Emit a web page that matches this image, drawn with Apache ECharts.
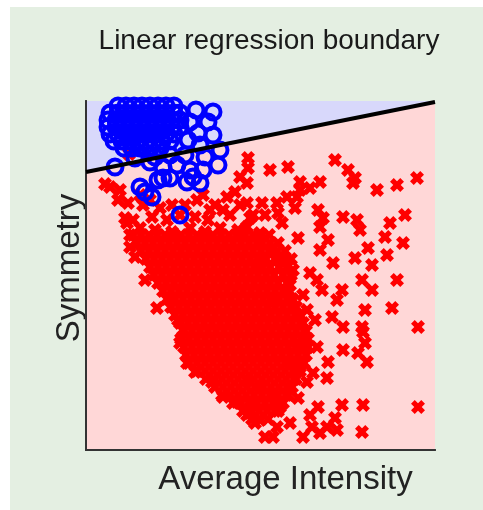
<!DOCTYPE html>
<html>
<head>
<meta charset="utf-8">
<script src="https://cdn.jsdelivr.net/npm/echarts@6/dist/echarts.min.js"></script>
<style>
  html, body { margin: 0; padding: 0; background: #ffffff; }
  #chart { position: absolute; left: 10px; top: 7px; width: 473px; height: 503px; }
</style>
</head>
<body>
<div id="chart"></div>
<script>
// Decision boundary from the linear regression fit (symmetry vs. intensity)
const boundaryX = [0, 34.9];
const boundaryY = [27.8, 34.8];

// Digit "1" samples (blue circles): dense cluster rows [symmetry, [intensities]]
const blueClusterRows = [
  [34.4, [3.2, 4.0, 4.8, 5.6, 6.4, 7.2, 8.0, 8.8]],
  [33.7, [2.4, 3.2, 4.0, 4.8, 5.6, 6.4, 7.2, 8.0, 8.8, 9.4]],
  [33.0, [2.2, 3.0, 3.8, 4.6, 5.4, 6.2, 7.0, 7.8, 8.6, 9.4]],
  [32.3, [2.2, 3.0, 3.8, 4.6, 5.4, 6.2, 7.0, 7.8, 8.6, 9.4]],
  [31.6, [2.4, 3.2, 4.0, 4.8, 5.6, 6.4, 7.2, 8.0, 8.8]],
  [30.9, [2.8, 3.6, 4.4, 5.2, 6.0, 6.8, 7.6, 8.4]],
  [30.2, [3.8, 4.6, 5.4, 6.4, 7.4]]
];
// Digit "1" samples away from the main cluster [intensity, symmetry]
const blueSpread = [
  [12.7, 33.8], [12.2, 32.8], [10.4, 32.8], [11.2, 31.7], [12.7, 31.5], [10.2, 31.0],
  [13.4, 30.0], [13.2, 28.5], [2.9, 28.3], [6.4, 28.8], [7.7, 28.3], [9.1, 28.5],
  [10.4, 28.0], [11.7, 28.0], [7.7, 27.2], [8.4, 27.2], [10.7, 27.3], [11.4, 26.7],
  [10.1, 26.8], [5.4, 26.3], [5.9, 25.8], [6.6, 25.3], [9.4, 23.5], [7.2, 27.0],
  [11.0, 34.0], [11.4, 30.5], [11.9, 29.3], [9.9, 29.5], [8.4, 29.5], [6.9, 29.3],
  [4.9, 29.2]
];

// Other digits (red crosses): dense core rows [symmetry, [intensities]]
const redCoreRows = [
  [21.5, [4.7, 5.5, 6.3, 7.1, 7.9, 8.7, 9.5, 10.3, 11.1, 11.9, 12.7, 13.5, 14.3, 15.1, 15.9, 16.7, 17.5, 18.3]],
  [20.7, [5.1, 5.9, 6.7, 7.5, 8.3, 9.1, 9.9, 10.7, 11.5, 12.3, 13.1, 13.9, 14.7, 15.5, 16.3, 17.1, 17.6, 18.4, 19.2]],
  [19.9, [5.5, 6.3, 7.1, 7.9, 8.7, 9.5, 10.3, 11.1, 11.9, 12.7, 13.5, 14.3, 15.1, 15.9, 16.7, 17.5, 18.3, 19.1, 19.9]],
  [19.1, [6.0, 6.8, 7.6, 8.4, 9.2, 10.0, 10.8, 11.6, 12.4, 13.2, 14.0, 14.8, 15.6, 16.4, 17.2, 18.0, 18.9, 19.7, 20.5]],
  [18.3, [6.4, 7.2, 8.0, 8.8, 9.6, 10.4, 11.2, 12.0, 12.8, 13.6, 14.4, 15.2, 16.0, 16.8, 17.6, 18.4, 19.3, 20.1]],
  [17.5, [6.8, 7.6, 8.4, 9.2, 10.0, 10.8, 11.6, 12.4, 13.2, 14.0, 14.8, 15.6, 16.4, 17.2, 18.0, 18.8, 19.7, 20.5]],
  [16.7, [7.2, 8.0, 8.8, 9.6, 10.4, 11.2, 12.0, 12.8, 13.6, 14.4, 15.2, 16.0, 16.8, 17.6, 18.4, 19.2, 20.1]],
  [15.9, [7.7, 8.5, 9.3, 10.1, 10.9, 11.7, 12.5, 13.3, 14.1, 14.9, 15.7, 16.5, 17.3, 18.1, 18.9, 19.7, 20.3]],
  [15.1, [8.1, 8.9, 9.7, 10.5, 11.3, 12.1, 12.9, 13.7, 14.5, 15.3, 16.1, 16.9, 17.7, 18.5, 19.3, 20.1, 20.6]],
  [14.3, [8.5, 9.3, 10.1, 10.9, 11.7, 12.5, 13.3, 14.1, 14.9, 15.7, 16.5, 17.3, 18.1, 18.9, 19.7, 20.5, 21.0]],
  [13.5, [8.9, 9.7, 10.5, 11.3, 12.1, 12.9, 13.7, 14.5, 15.3, 16.1, 16.9, 17.7, 18.5, 19.3, 20.1, 20.9, 21.4]],
  [12.7, [9.4, 10.2, 11.0, 11.8, 12.6, 13.4, 14.2, 15.0, 15.8, 16.6, 17.4, 18.2, 19.0, 19.8, 20.6, 21.4, 21.7]],
  [11.9, [9.8, 10.6, 11.4, 12.2, 13.0, 13.8, 14.6, 15.4, 16.2, 17.0, 17.8, 18.6, 19.4, 20.2, 21.0, 21.8, 22.0]],
  [11.1, [9.5, 10.3, 11.1, 11.9, 12.7, 13.5, 14.3, 15.1, 15.9, 16.7, 17.5, 18.3, 19.1, 19.9, 20.7, 21.5, 22.2]],
  [10.3, [9.8, 10.6, 11.4, 12.2, 13.0, 13.8, 14.6, 15.4, 16.2, 17.0, 17.8, 18.6, 19.4, 20.2, 21.0, 21.8, 22.2]],
  [9.5, [10.0, 10.8, 11.6, 12.4, 13.2, 14.0, 14.8, 15.6, 16.4, 17.2, 18.0, 18.8, 19.6, 20.4, 21.2, 22.0]],
  [8.7, [10.3, 11.1, 11.9, 12.7, 13.5, 14.3, 15.1, 15.9, 16.7, 17.5, 18.3, 19.1, 19.9, 20.7, 21.5, 21.8]],
  [7.9, [11.1, 11.9, 12.7, 13.5, 14.3, 15.1, 15.9, 16.7, 17.5, 18.3, 19.1, 19.9, 20.7, 21.4]],
  [7.1, [12.0, 12.8, 13.6, 14.4, 15.2, 16.0, 16.8, 17.6, 18.4, 19.2, 20.0, 20.8, 21.0]],
  [6.3, [12.9, 13.7, 14.5, 15.3, 16.1, 16.9, 17.7, 18.5, 19.3, 20.1, 20.6]],
  [5.5, [13.6, 14.4, 15.2, 16.0, 16.8, 17.6, 18.4, 19.2, 20.0, 20.2]],
  [4.7, [14.7, 15.5, 16.3, 17.1, 17.9, 18.7, 19.5, 19.7]],
  [3.9, [15.7, 16.5, 17.3, 18.1, 18.9, 19.2]],
  [3.1, [16.6, 17.4, 18.2]]
];
// Other digits scattered around the core [intensity, symmetry]
const redSpread = [
  [16.2, 29.2], [16.2, 28.2], [16.1, 26.7], [18.4, 28.0], [20.2, 28.3], [24.9, 29.0],
  [26.2, 28.0], [26.9, 27.2], [26.7, 26.7], [29.1, 26.0], [31.1, 26.5], [33.1, 27.2],
  [21.4, 26.8], [21.4, 26.0], [22.4, 26.2], [23.4, 26.8], [20.1, 25.3], [21.1, 25.3],
  [17.6, 24.7], [17.9, 23.5], [19.1, 24.7], [19.2, 23.7], [20.9, 24.2], [23.2, 24.0],
  [23.7, 23.2], [25.7, 23.3], [27.1, 23.0], [30.4, 22.7], [31.9, 23.5], [16.4, 23.2],
  [19.6, 22.7],
  [4.3, 29.6], [2.4, 26.3], [1.9, 26.6], [3.4, 26.0], [3.2, 25.0], [4.2, 24.7],
  [4.7, 23.0], [3.9, 23.2], [6.6, 23.3], [7.4, 24.2], [8.1, 23.0], [11.1, 25.0],
  [11.7, 25.5], [10.9, 23.3], [12.2, 23.0], [14.1, 25.3], [14.9, 25.8], [15.4, 27.3],
  [13.7, 24.0], [16.1, 24.7], [16.7, 23.5], [9.4, 23.5], [5.4, 25.5], [6.4, 25.0],
  [5.7, 24.5], [8.6, 24.5], [9.9, 24.5], [5.4, 22.2], [6.9, 22.0], [8.6, 21.8],
  [10.4, 22.2], [11.9, 21.8], [13.4, 22.2], [15.2, 22.0], [4.4, 21.5], [12.9, 24.5],
  [14.4, 23.5], [15.4, 24.5], [12.4, 24.0],
  [29.9, 21.3], [31.7, 20.7], [28.2, 20.2], [26.9, 19.2], [28.6, 18.5], [30.1, 19.5],
  [31.1, 17.0], [27.6, 17.0], [28.6, 16.0], [25.6, 16.0], [25.1, 15.0], [24.7, 18.7],
  [23.4, 20.0], [24.2, 21.0], [21.2, 21.2], [23.4, 22.3], [27.4, 22.0], [30.6, 14.2],
  [27.9, 14.0], [27.6, 12.3], [33.2, 12.3], [24.6, 13.3], [22.9, 13.0], [25.7, 12.3],
  [23.6, 16.0], [22.4, 17.7], [23.1, 17.0], [20.4, 16.5], [19.7, 18.7], [20.7, 18.0],
  [18.7, 20.2], [17.4, 21.7], [16.1, 22.3], [17.4, 18.7], [22.1, 14.0], [20.7, 15.0],
  [18.7, 14.8], [21.7, 15.5],
  [27.7, 11.8], [27.9, 10.7], [27.2, 9.7], [28.1, 8.8], [25.7, 10.0], [24.2, 8.8],
  [24.1, 7.2], [22.7, 7.7], [21.4, 8.3], [21.2, 10.7], [23.1, 10.3], [25.6, 4.5],
  [27.7, 4.5], [33.2, 4.3], [23.2, 4.3], [22.4, 3.5], [24.9, 3.2], [24.1, 2.3],
  [25.1, 2.0], [23.4, 1.7], [21.7, 1.3], [18.7, 1.3], [17.9, 1.3], [27.6, 1.8],
  [19.1, 2.3], [17.4, 3.0], [16.4, 3.7], [16.4, 4.8], [19.4, 4.3], [21.2, 5.2],
  [22.1, 6.8], [20.4, 8.7], [16.1, 7.0], [17.4, 6.3], [18.7, 5.5], [22.6, 2.3],
  [20.4, 2.7],
  [9.4, 10.7], [10.1, 8.7], [10.9, 7.8], [12.6, 6.8], [13.7, 5.3], [15.1, 4.8],
  [16.1, 3.5], [16.9, 2.7],
  [4.1, 22.7], [4.4, 20.3], [4.9, 19.3], [5.9, 17.0], [7.1, 14.2], [8.4, 15.0],
  [9.7, 12.0], [9.2, 13.0]
];

const titleText = 'Linear regression boundary';
const xName = 'Average Intensity';
const yName = 'Symmetry';

function fromRows(rows) {
  const out = [];
  rows.forEach(function (r) { r[1].forEach(function (x) { out.push([x, r[0]]); }); });
  return out;
}
const redPoints = fromRows(redCoreRows).concat(redSpread);
const bluePoints = fromRows(blueClusterRows).concat(blueSpread);
const boundary = boundaryX.map(function (x, i) { return [x, boundaryY[i]]; });

// filled "x" marker outline
const crossPath = 'path://M0,3.2L3.2,0L6,2.8L8.8,0L12,3.2L9.2,6L12,8.8L8.8,12L6,9.2L3.2,12L0,8.8L2.8,6Z';
const font = '"Liberation Sans", Arial, sans-serif';
const frame = { show: true, lineStyle: { color: '#333333', width: 2 } };

const chart = echarts.init(document.getElementById('chart'), null, { renderer: 'canvas' });
chart.setOption({
  animation: false,
  backgroundColor: '#e4efe2',
  title: {
    text: titleText,
    left: 254,
    top: 15,
    textAlign: 'center',
    textStyle: { fontFamily: font, fontSize: 28, fontWeight: 'normal', color: '#1a1a1a' }
  },
  grid: {
    left: 76, top: 94, width: 349, height: 349,
    show: true, backgroundColor: '#d8d8fb', borderWidth: 0
  },
  xAxis: [
    {
      type: 'value', min: 0, max: 34.9, position: 'bottom', z: 10,
      name: xName, nameLocation: 'middle', nameGap: 13,
      nameTextStyle: { fontFamily: font, fontSize: 33, color: '#222222', padding: [0, 0, 0, 50] },
      axisLine: frame, axisTick: { show: false }, axisLabel: { show: false }, splitLine: { show: false }
    },
    {
      type: 'value', min: 0, max: 34.9, position: 'top', z: 10,
      axisLine: frame, axisTick: { show: false }, axisLabel: { show: false }, splitLine: { show: false }
    }
  ],
  yAxis: [
    {
      type: 'value', min: 0, max: 34.9, position: 'left', z: 10,
      name: yName, nameLocation: 'middle', nameGap: 0,
      nameTextStyle: { fontFamily: font, fontSize: 33, color: '#222222', padding: [0, 0, 0, 15] },
      axisLine: frame, axisTick: { show: false }, axisLabel: { show: false }, splitLine: { show: false }
    },
    {
      type: 'value', min: 0, max: 34.9, position: 'right', z: 10,
      axisLine: frame, axisTick: { show: false }, axisLabel: { show: false }, splitLine: { show: false }
    }
  ],
  series: [
    {
      // region classified as "not 1"
      type: 'line', data: boundary, symbol: 'none', silent: true, z: 2,
      lineStyle: { width: 0 },
      areaStyle: { color: '#ffd7d7', opacity: 1, origin: 'start' }
    },
    {
      type: 'scatter', data: redPoints, symbol: crossPath, symbolSize: 14, silent: true, z: 3,
      itemStyle: { color: '#ff0000', opacity: 1 }
    },
    {
      type: 'scatter', data: bluePoints, symbol: 'circle', symbolSize: 15, silent: true, z: 12,
      itemStyle: { color: 'rgba(0,0,0,0)', borderColor: '#0000ff', borderWidth: 4, opacity: 1 }
    },
    {
      type: 'line', data: boundary, symbol: 'none', silent: true, z: 13,
      lineStyle: { color: '#000000', width: 4 }
    }
  ]
});
</script>
</body>
</html>
